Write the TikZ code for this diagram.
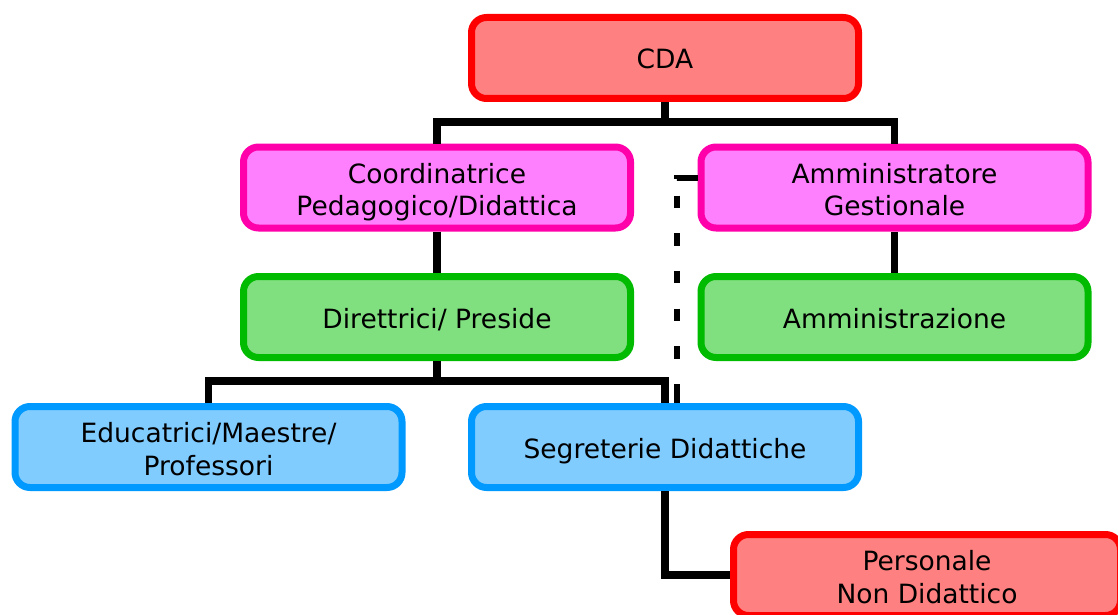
\documentclass[tikz,border=0pt]{standalone}
\usepackage{fontspec}
\setmainfont{DejaVu Sans}
\definecolor{redB}{HTML}{FF0000}
\definecolor{redF}{HTML}{FF8080}
\definecolor{magB}{HTML}{FF00AA}
\definecolor{magF}{HTML}{FF80FF}
\definecolor{grnB}{HTML}{00BB00}
\definecolor{grnF}{HTML}{80E080}
\definecolor{bluB}{HTML}{0099FF}
\definecolor{bluF}{HTML}{80CCFF}
\newcommand\twolines[2]{\rule{0pt}{32pt}#1\\#2\rule[-8pt]{0pt}{8pt}}
\tikzset{
  box/.style={draw, line width=7pt, rounded corners=15pt, minimum width=387pt,
    minimum height=81pt, align=center, inner sep=0pt,
    font=\fontsize{26.5}{32.5}\selectfont, text=black},
  oneline/.style={text height=30pt, text depth=8pt},
  redbox/.style={box, draw=redB, fill=redF},
  magbox/.style={box, draw=magB, fill=magF},
  grnbox/.style={box, draw=grnB, fill=grnF},
  blubox/.style={box, draw=bluB, fill=bluF},
  conn/.style={draw=black, line width=7.5pt, miter limit=10},
  dconn/.style={draw=black, line width=6pt,
    dash pattern=on 21pt off 17pt on 12.3pt off 25.4pt on 12.3pt off 25.4pt on 12.3pt off 25.4pt on 12.3pt off 25.4pt on 12.3pt off 25.4pt on 30pt}
}
\begin{document}
\begin{tikzpicture}[x=1pt,y=-1pt]
\useasboundingbox (0,0) rectangle (1118,615);
\clip (0,0) rectangle (1118,615);
\node[redbox, oneline] (cda) at (665,58) {CDA};
\node[magbox] (coord) at (437,187.5) {\twolines{Coordinatrice}{Pedagogico/Didattica}};
\node[magbox] (ammin) at (894.5,187.5) {\twolines{Amministratore}{Gestionale}};
\node[grnbox, oneline] (dir) at (437,317) {Direttrici/ Preside};
\node[grnbox, oneline] (amz) at (894.5,317) {Amministrazione};
\node[blubox] (edu) at (208.5,447) {\twolines{Educatrici/Maestre/}{Professori}};
\node[blubox, oneline] (seg) at (665,447) {Segreterie Didattiche};
\node[redbox] (pers) at (927,575) {\twolines{Personale}{Non Didattico}};
\coordinate (j1) at (665,122);
\coordinate (j2) at (437,381);
\coordinate (d1) at (677,178);
\draw[conn] (cda.south) -- (j1);
\draw[conn] (coord.north) |- (j1) -| (ammin.north);
\draw[conn] (coord.south) -- (dir.north);
\draw[conn] (ammin.south) -- (amz.north);
\draw[conn] (dir.south) -- (j2);
\draw[conn] (edu.north) |- (j2) -| (seg.north);
\draw[conn] (seg.south) |- (pers.west);
\draw[dconn] (ammin.west |- d1) -- (d1) -- (d1 |- seg.north);
\end{tikzpicture}
\end{document}
